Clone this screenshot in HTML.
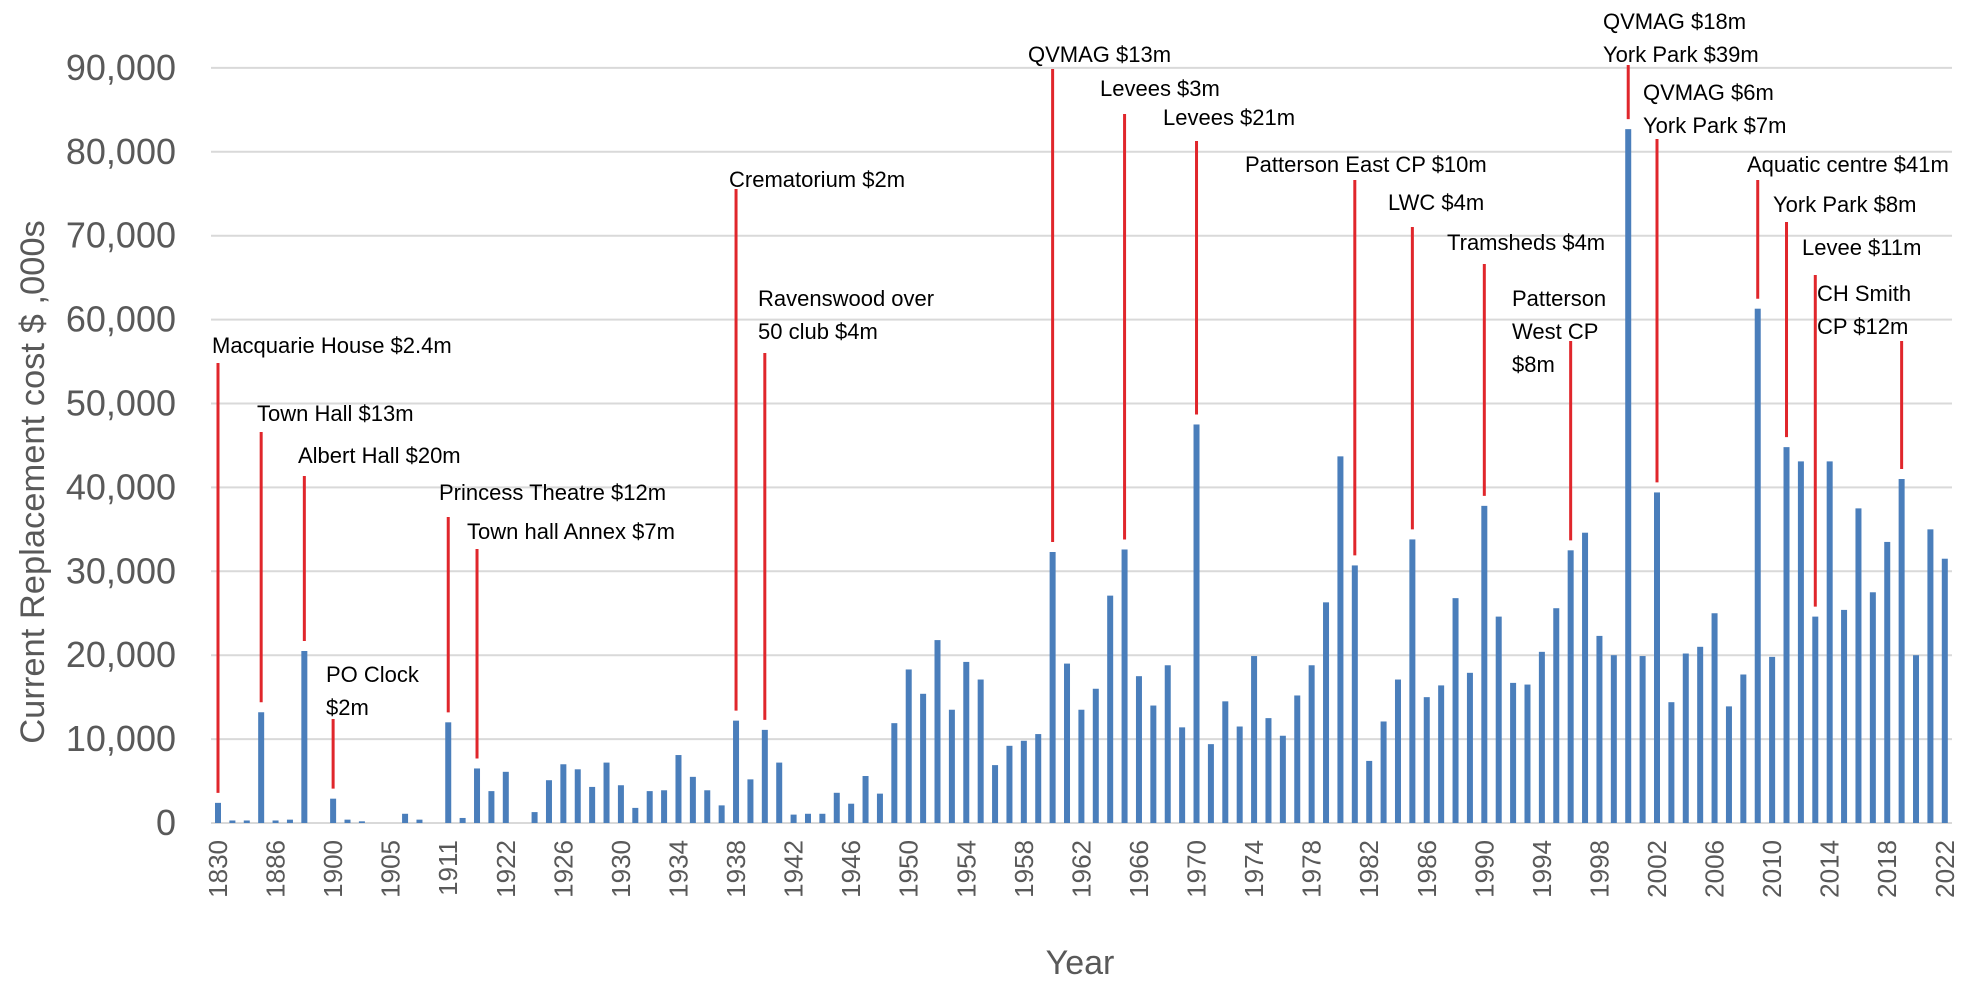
<!DOCTYPE html>
<html><head><meta charset="utf-8"><title>Current Replacement cost by Year</title>
<style>
html,body{margin:0;padding:0;background:#fff;}
svg{display:block;font-family:"Liberation Sans",Arial,sans-serif;}
</style></head>
<body>
<svg id="chart" width="1982" height="985" viewBox="0 0 1982 985">
  <g id="grid"></g>
  <g id="yticks"></g>
  <g id="bars"></g>
  <g id="xticks"></g>
  <g id="annots"></g>
  <text transform="translate(44,482) rotate(-90)" text-anchor="middle" font-size="34.5" fill="#595959">Current Replacement cost $ ,000s</text>
  <text x="1080" y="974" text-anchor="middle" font-size="34" fill="#595959">Year</text>
</svg>
<script>
const values = [2.4,0.3,0.3,13.2,0.3,0.4,20.5,0,2.9,0.4,0.2,0,0,1.1,0.4,0,
12.0,0.6,6.5,3.8,6.1,0,1.3,5.1,7.0,6.4,4.3,7.2,4.5,1.8,3.8,3.9,8.1,5.5,3.9,2.1,
12.2,5.2,11.1,7.2,1.0,1.1,1.1,3.6,2.3,5.6,3.5,11.9,
18.3,15.4,21.8,13.5,19.2,17.1,6.9,9.2,9.8,10.6,32.3,19.0,13.5,16.0,27.1,32.6,17.5,14.0,18.8,11.4,
47.5,9.4,14.5,11.5,19.9,12.5,10.4,15.2,18.8,26.3,43.7,30.7,7.4,12.1,17.1,
33.8,15.0,16.4,26.8,17.9,37.8,24.6,16.7,16.5,20.4,25.6,32.5,34.6,22.3,20.0,82.7,19.9,39.4,14.4,20.2,21.0,25.0,13.9,17.7,61.3,19.8,44.8,43.1,24.6,43.1,25.4,37.5,27.5,33.5,41.0,20.0,35.0,31.5];
const tickIndex = [0,4,8,12,16,20,24,28,32,36,40,44,48,52,56,60,64,68,72,76,80,84,88,92,96,100,104,108,112,116,120];
const tickLabels = ["1830","1886","1900","1905","1911","1922","1926","1930","1934","1938","1942","1946","1950","1954","1958","1962","1966","1970","1974","1978","1982","1986","1990","1994","1998","2002","2006","2010","2014","2018","2022"];
const yTicks = [0,10,20,30,40,50,60,70,80,90];
const yTickLabels = ["0","10,000","20,000","30,000","40,000","50,000","60,000","70,000","80,000","90,000"];
const annIndex = [0,3,6,8,16,18,36,38,58,63,68,79,83,88,94,98,100,107,109,111,117];
const annLineTop = [363,432,476,719,517,549,189,353,69,114,141,180,227,264,341,65,139,180,222,275,341];
const annText = [["Macquarie House $2.4m"],["Town Hall $13m"],["Albert Hall $20m"],["PO Clock","$2m"],["Princess Theatre $12m"],["Town hall Annex $7m"],["Crematorium $2m"],["Ravenswood over","50 club $4m"],["QVMAG $13m"],["Levees $3m"],["Levees $21m"],["Patterson East CP $10m"],["LWC $4m"],["Tramsheds $4m"],["Patterson","West CP","$8m"],["QVMAG $18m"," York Park $39m"],["QVMAG $6m","York Park $7m"],["Aquatic centre $41m"],["York Park $8m"],["Levee $11m"],["CH Smith","CP $12m"]];
const annX = [212,257,298,326,439,467,729,758,1028,1100,1163,1245,1388,1447,1512,1603,1643,1747,1773,1802,1817];
const annY = [345,413,455,674,492,531,179,298,54,88,117,164,202,242,298,21,92,164,204,247,293];

const SVGNS="http://www.w3.org/2000/svg";
const x0=218, dx=14.39, y0=823, pxPer=83.9, left=211, right=1952;
function xs(i){return x0+dx*i;}
function ys(v){return y0-v*pxPer/10;}
function mk(tag,attrs,parent){const e=document.createElementNS(SVGNS,tag);for(const k in attrs)e.setAttribute(k,attrs[k]);parent.appendChild(e);return e;}
const grid=document.getElementById('grid'),yt=document.getElementById('yticks'),bars=document.getElementById('bars'),xt=document.getElementById('xticks'),an=document.getElementById('annots');
yTicks.forEach((v,k)=>{
  const l=mk('line',{x1:left,x2:right,y1:ys(v),y2:ys(v),stroke:'#d9d9d9','stroke-width':2},grid);
  
  
  const t=mk('text',{x:176,y:ys(v)+12,'text-anchor':'end','font-size':36,fill:'#595959'},yt);
  t.textContent=yTickLabels[k];
  
  
});
values.forEach((v,i)=>{
  const h=v*pxPer/10;
  const r=mk('rect',{x:xs(i)-3,y:y0-h,width:6,height:h,fill:'#4a7ebb'},bars);
  
  
});
tickIndex.forEach((idx,k)=>{
  const t=mk('text',{transform:`translate(${xs(idx)+9},840) rotate(-90)`,'text-anchor':'end','font-size':26,fill:'#595959'},xt);
  t.textContent=tickLabels[k];
  
  
});
annIndex.forEach((idx,k)=>{
  const bottom=ys(values[idx])-10;
  const l=mk('line',{x1:xs(idx),x2:xs(idx),y1:annLineTop[k],y2:bottom,stroke:'#e0262b','stroke-width':3},an);
  
  
  annText[k].forEach((s,j)=>{
    const t=mk('text',{x:annX[k],y:annY[k]+j*33+8,'font-size':22,fill:'#000'},an);
    t.textContent=s;
    
    
  });
});
</script>
</body></html>
